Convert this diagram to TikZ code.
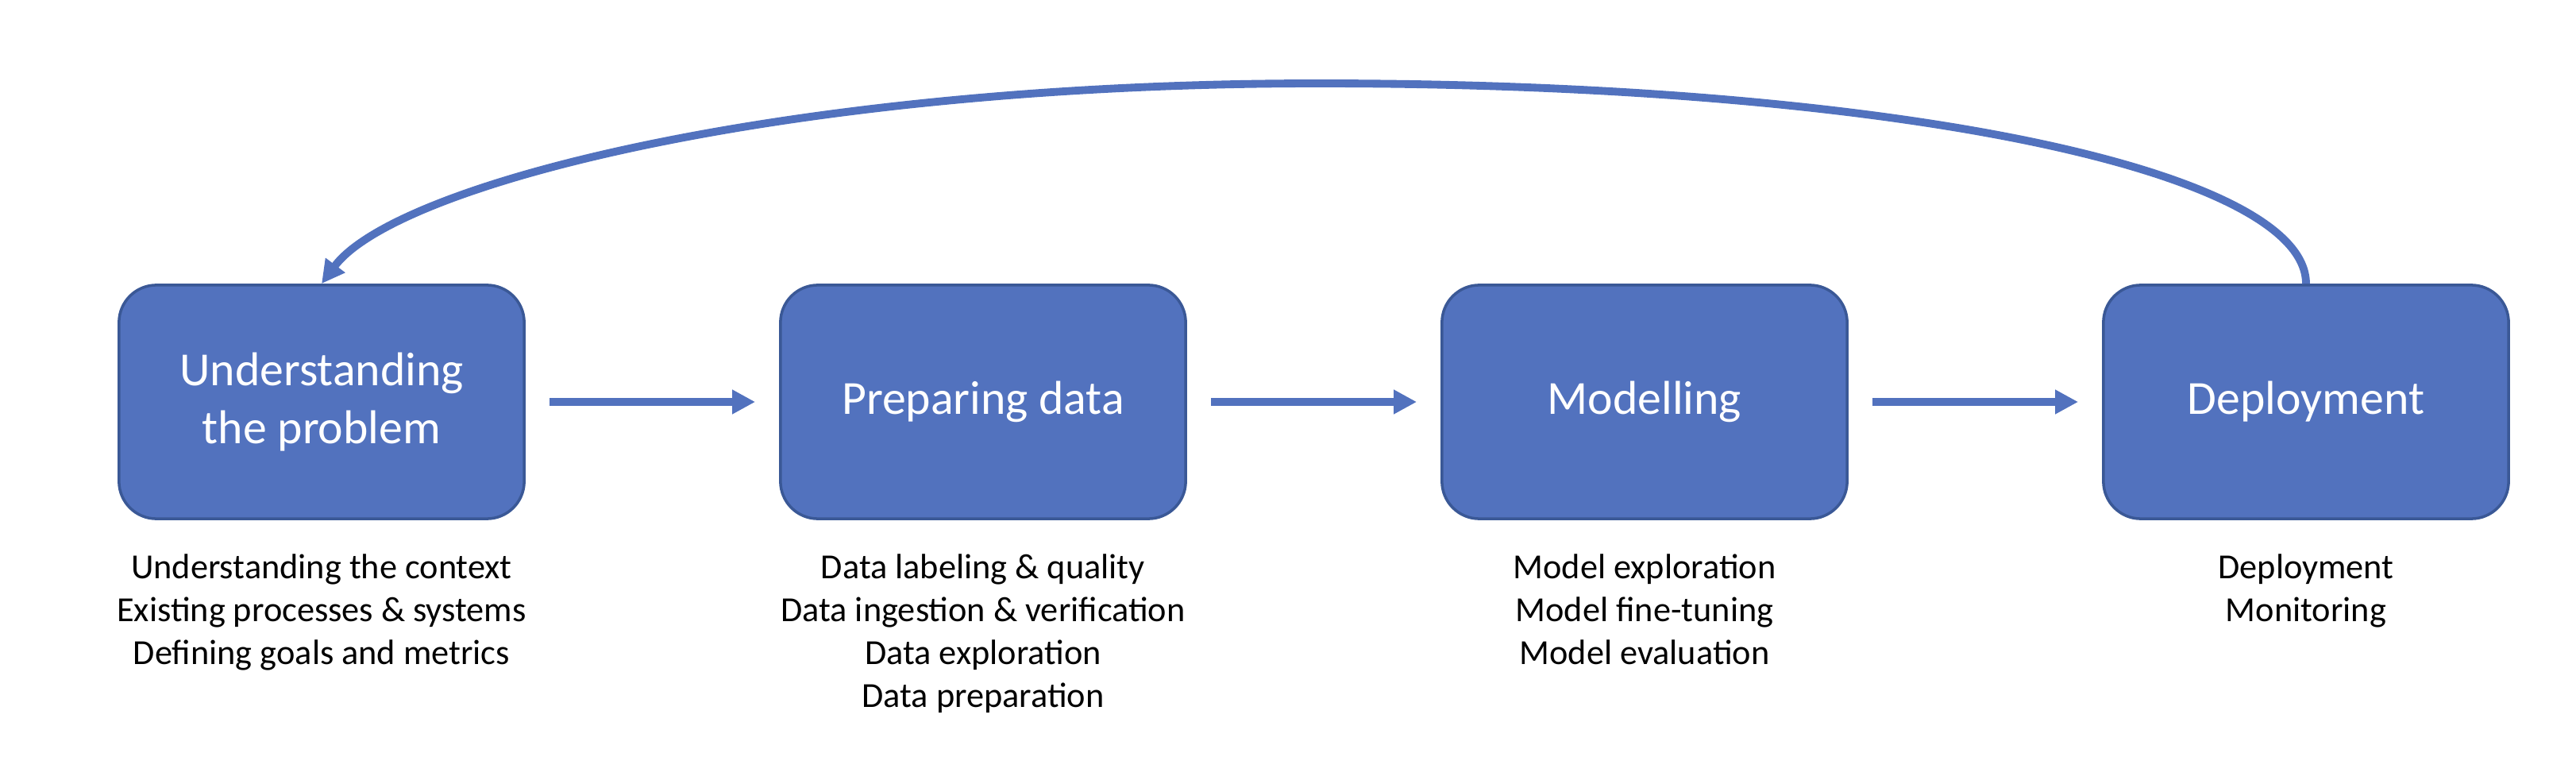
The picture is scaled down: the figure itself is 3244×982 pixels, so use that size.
\documentclass[tikz,border=0pt]{standalone}
\usepackage{fontspec}
\setmainfont{Carlito}
\usetikzlibrary{arrows.meta,positioning}

\definecolor{boxblue}{HTML}{5272BE}
\definecolor{boxedge}{HTML}{3A5896}

\begin{document}
\begin{tikzpicture}[x=0.01cm,y=-0.01cm,thin,>={Triangle[length=2.9mm,width=2.9mm]},
    node distance=3.19cm,
    stage/.style={draw=boxedge,line width=1pt,fill=boxblue,rounded corners=4.7mm,
      minimum width=5.1cm,minimum height=2.94cm,text=white,align=center,
      font=\fontsize{17}{21}\selectfont},
    notes/.style={inner sep=0pt,align=center,font=\fontsize{12.6}{15.4}\selectfont},
    flow/.style={->,draw=boxblue,line width=2.8pt,shorten <=3mm,shorten >=3mm}]

\useasboundingbox (0,0) rectangle (3244,982);

\node [stage] (und) at (405,506) {Understanding\\the problem};
\node [stage] (prep) [right=of und] {Preparing data};
\node [stage] (mod) [right=of prep] {Modelling};
\node [stage] (dep) [right=of mod] {Deployment};

% what each stage covers
\node [notes] (und-l) [below=4.2mm of und] {Understanding the context\\Existing processes \& systems\\Defining goals and metrics};
\node [notes] (prep-l) [below=4.2mm of prep] {Data labeling \& quality\\Data ingestion \& verification\\Data exploration\\Data preparation};
\node [notes] (mod-l) [below=4.2mm of mod] {Model exploration\\Model fine-tuning\\Model evaluation};
\node [notes] (dep-l) [below=4.2mm of dep] {Deployment\\Monitoring};

\draw [flow] (und) -- (prep);
\draw [flow] (prep) -- (mod);
\draw [flow] (mod) -- (dep);

% back to the start
\coordinate (top) at (1660,105);
\draw [->,draw=boxblue,line width=2.8pt] (dep.north) .. controls +(0,-140) and (2400,105) .. (top)
    .. controls (1000,105) and (500,230) .. (und.north);

\end{tikzpicture}
\end{document}
